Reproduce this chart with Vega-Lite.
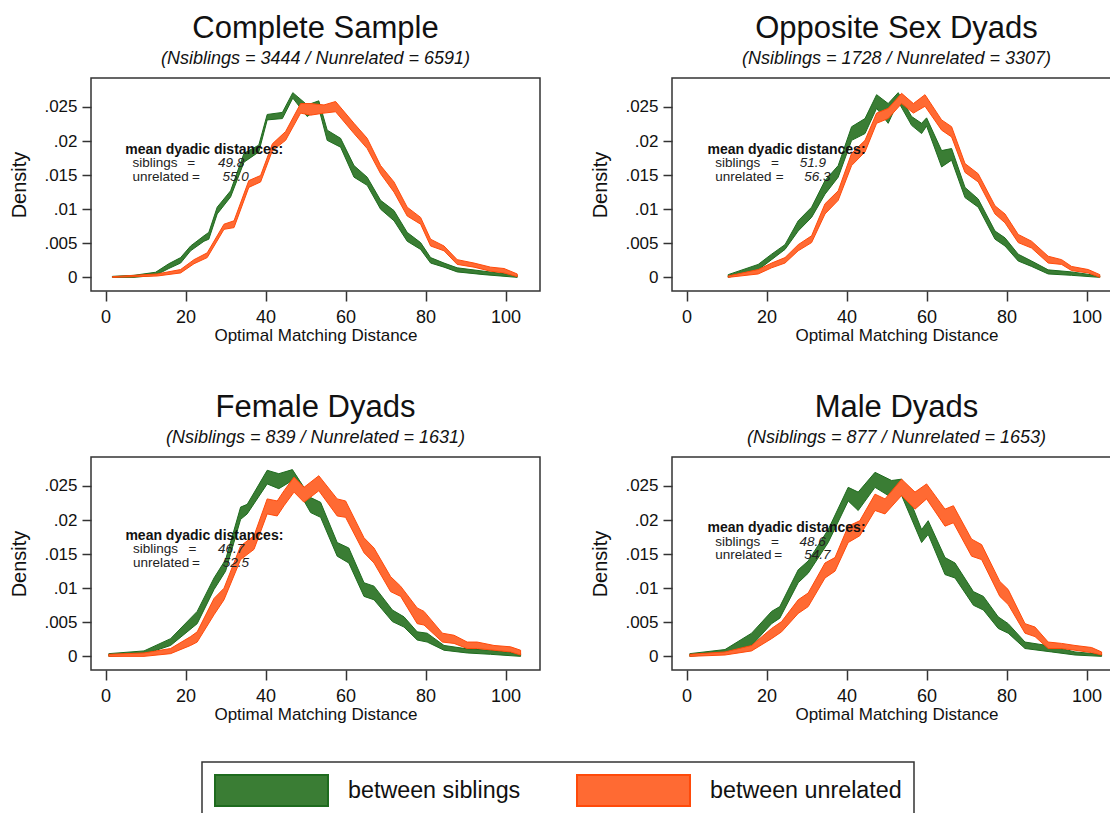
{
  "$schema": "https://vega.github.io/schema/vega-lite/v6.json",
  "padding": {"left": 8, "top": 12, "right": 0, "bottom": 0},
  "background": "white",
  "config": {
    "font": "Liberation Sans",
    "view": {"stroke": "#333", "strokeWidth": 1.5},
    "axis": {"grid": false, "domain": false, "tickColor": "#333", "tickWidth": 1.5, "labelColor": "#111", "titleColor": "#111", "titleFontWeight": "normal"},
    "title": {"fontSize": 31, "fontWeight": "normal", "color": "#111", "subtitleFontSize": 18, "subtitleFontStyle": "italic", "subtitleColor": "#111", "subtitlePadding": 5, "anchor": "middle", "frame": "group", "offset": 9},
    "legend": {"orient": "none", "legendX": 111, "legendY": 684, "direction": "horizontal", "symbolType": "M-1,-1H6.29V1H-1Z", "symbolSize": 961, "labelFontSize": 23.3, "labelLimit": 400, "labelOffset": 101, "columnPadding": 52, "padding": 12, "strokeColor": "#333", "strokeWidth": 1.5, "fillColor": "white", "labelColor": "#111", "symbolOpacity": 1, "symbolStrokeWidth": 2}
  },
  "datasets": {
    "bands": [
      {"panel":1,"group":"between siblings","x":1.7,"lo":0,"hi":0.00015},
      {"panel":1,"group":"between siblings","x":7.1,"lo":0,"hi":0.0003},
      {"panel":1,"group":"between siblings","x":12.5,"lo":0.0003,"hi":0.00075},
      {"panel":1,"group":"between siblings","x":15.8,"lo":0.0013,"hi":0.002},
      {"panel":1,"group":"between siblings","x":18.75,"lo":0.0021,"hi":0.0029},
      {"panel":1,"group":"between siblings","x":21.25,"lo":0.0039,"hi":0.0046},
      {"panel":1,"group":"between siblings","x":24.6,"lo":0.0053,"hi":0.0061},
      {"panel":1,"group":"between siblings","x":25.8,"lo":0.0056,"hi":0.0066},
      {"panel":1,"group":"between siblings","x":27.9,"lo":0.0093,"hi":0.0103},
      {"panel":1,"group":"between siblings","x":31.25,"lo":0.0118,"hi":0.0127},
      {"panel":1,"group":"between siblings","x":34.6,"lo":0.0169,"hi":0.0182},
      {"panel":1,"group":"between siblings","x":38.3,"lo":0.0184,"hi":0.0194},
      {"panel":1,"group":"between siblings","x":40.4,"lo":0.0231,"hi":0.0239},
      {"panel":1,"group":"between siblings","x":44.2,"lo":0.0233,"hi":0.0242},
      {"panel":1,"group":"between siblings","x":46.8,"lo":0.0263,"hi":0.0271},
      {"panel":1,"group":"between siblings","x":50.4,"lo":0.0236,"hi":0.0253},
      {"panel":1,"group":"between siblings","x":53.3,"lo":0.0248,"hi":0.0259},
      {"panel":1,"group":"between siblings","x":55.4,"lo":0.0201,"hi":0.0216},
      {"panel":1,"group":"between siblings","x":58.75,"lo":0.0191,"hi":0.0204},
      {"panel":1,"group":"between siblings","x":62.1,"lo":0.0147,"hi":0.0164},
      {"panel":1,"group":"between siblings","x":65.4,"lo":0.0135,"hi":0.0147},
      {"panel":1,"group":"between siblings","x":68.75,"lo":0.01,"hi":0.0113},
      {"panel":1,"group":"between siblings","x":72.1,"lo":0.0083,"hi":0.0098},
      {"panel":1,"group":"between siblings","x":75.4,"lo":0.0053,"hi":0.0066},
      {"panel":1,"group":"between siblings","x":78.75,"lo":0.0041,"hi":0.0051},
      {"panel":1,"group":"between siblings","x":81.25,"lo":0.0021,"hi":0.0029},
      {"panel":1,"group":"between siblings","x":84.6,"lo":0.0015,"hi":0.0021},
      {"panel":1,"group":"between siblings","x":87.9,"lo":0.0008,"hi":0.0014},
      {"panel":1,"group":"between siblings","x":94.6,"lo":0.0004,"hi":0.0009},
      {"panel":1,"group":"between siblings","x":102.9,"lo":0,"hi":0.0003},
      {"panel":1,"group":"between unrelated","x":1.7,"lo":0,"hi":0.0001},
      {"panel":1,"group":"between unrelated","x":12.9,"lo":0.0002,"hi":0.0005},
      {"panel":1,"group":"between unrelated","x":18.75,"lo":0.00065,"hi":0.00115},
      {"panel":1,"group":"between unrelated","x":22.1,"lo":0.002,"hi":0.0026},
      {"panel":1,"group":"between unrelated","x":25.4,"lo":0.0029,"hi":0.0036},
      {"panel":1,"group":"between unrelated","x":29.6,"lo":0.00705,"hi":0.0078},
      {"panel":1,"group":"between unrelated","x":32.1,"lo":0.0073,"hi":0.0083},
      {"panel":1,"group":"between unrelated","x":35.8,"lo":0.0132,"hi":0.0142},
      {"panel":1,"group":"between unrelated","x":38.75,"lo":0.014,"hi":0.01495},
      {"panel":1,"group":"between unrelated","x":41.7,"lo":0.0186,"hi":0.0196},
      {"panel":1,"group":"between unrelated","x":45.0,"lo":0.0201,"hi":0.0214},
      {"panel":1,"group":"between unrelated","x":48.75,"lo":0.0241,"hi":0.0255},
      {"panel":1,"group":"between unrelated","x":51.25,"lo":0.0238,"hi":0.0255},
      {"panel":1,"group":"between unrelated","x":54.6,"lo":0.0241,"hi":0.0253},
      {"panel":1,"group":"between unrelated","x":57.5,"lo":0.0243,"hi":0.0258},
      {"panel":1,"group":"between unrelated","x":62.1,"lo":0.0211,"hi":0.0226},
      {"panel":1,"group":"between unrelated","x":65.4,"lo":0.0189,"hi":0.0204},
      {"panel":1,"group":"between unrelated","x":68.75,"lo":0.0152,"hi":0.0164},
      {"panel":1,"group":"between unrelated","x":72.1,"lo":0.0125,"hi":0.014},
      {"panel":1,"group":"between unrelated","x":75.4,"lo":0.009,"hi":0.0103},
      {"panel":1,"group":"between unrelated","x":78.75,"lo":0.0078,"hi":0.0088},
      {"panel":1,"group":"between unrelated","x":81.25,"lo":0.0046,"hi":0.0056},
      {"panel":1,"group":"between unrelated","x":84.6,"lo":0.0039,"hi":0.0046},
      {"panel":1,"group":"between unrelated","x":87.9,"lo":0.0019,"hi":0.0026},
      {"panel":1,"group":"between unrelated","x":92.1,"lo":0.0015,"hi":0.0021},
      {"panel":1,"group":"between unrelated","x":96.25,"lo":0.0009,"hi":0.0015},
      {"panel":1,"group":"between unrelated","x":99.6,"lo":0.00065,"hi":0.0013},
      {"panel":1,"group":"between unrelated","x":102.9,"lo":0.0001,"hi":0.0005},

      {"panel":2,"group":"between siblings","x":10.4,"lo":0,"hi":0.0004},
      {"panel":2,"group":"between siblings","x":17.9,"lo":0.0011,"hi":0.0019},
      {"panel":2,"group":"between siblings","x":21.25,"lo":0.0026,"hi":0.0034},
      {"panel":2,"group":"between siblings","x":24.6,"lo":0.0041,"hi":0.0048},
      {"panel":2,"group":"between siblings","x":27.9,"lo":0.0068,"hi":0.0083},
      {"panel":2,"group":"between siblings","x":31.25,"lo":0.0088,"hi":0.0103},
      {"panel":2,"group":"between siblings","x":34.6,"lo":0.0122,"hi":0.0142},
      {"panel":2,"group":"between siblings","x":37.9,"lo":0.0147,"hi":0.0164},
      {"panel":2,"group":"between siblings","x":41.25,"lo":0.0201,"hi":0.0221},
      {"panel":2,"group":"between siblings","x":44.6,"lo":0.0211,"hi":0.0233},
      {"panel":2,"group":"between siblings","x":47.5,"lo":0.0248,"hi":0.0268},
      {"panel":2,"group":"between siblings","x":50.4,"lo":0.0226,"hi":0.0255},
      {"panel":2,"group":"between siblings","x":52.9,"lo":0.0258,"hi":0.0271},
      {"panel":2,"group":"between siblings","x":56.25,"lo":0.0223,"hi":0.0236},
      {"panel":2,"group":"between siblings","x":58.75,"lo":0.0211,"hi":0.0226},
      {"panel":2,"group":"between siblings","x":60.0,"lo":0.0222,"hi":0.0234},
      {"panel":2,"group":"between siblings","x":63.75,"lo":0.0162,"hi":0.0186},
      {"panel":2,"group":"between siblings","x":66.25,"lo":0.0172,"hi":0.0189},
      {"panel":2,"group":"between siblings","x":69.6,"lo":0.0117,"hi":0.0132},
      {"panel":2,"group":"between siblings","x":72.9,"lo":0.0103,"hi":0.0115},
      {"panel":2,"group":"between siblings","x":77.1,"lo":0.0056,"hi":0.0068},
      {"panel":2,"group":"between siblings","x":79.6,"lo":0.0046,"hi":0.0058},
      {"panel":2,"group":"between siblings","x":82.9,"lo":0.0024,"hi":0.0034},
      {"panel":2,"group":"between siblings","x":86.25,"lo":0.0016,"hi":0.0024},
      {"panel":2,"group":"between siblings","x":90.4,"lo":0.0005,"hi":0.0011},
      {"panel":2,"group":"between siblings","x":96.25,"lo":0.0003,"hi":0.0008},
      {"panel":2,"group":"between siblings","x":103.3,"lo":0,"hi":0.0002},
      {"panel":2,"group":"between unrelated","x":10.4,"lo":0,"hi":0.0002},
      {"panel":2,"group":"between unrelated","x":17.9,"lo":0.0005,"hi":0.00115},
      {"panel":2,"group":"between unrelated","x":21.25,"lo":0.0014,"hi":0.0021},
      {"panel":2,"group":"between unrelated","x":24.6,"lo":0.0021,"hi":0.0029},
      {"panel":2,"group":"between unrelated","x":27.9,"lo":0.0039,"hi":0.0048},
      {"panel":2,"group":"between unrelated","x":31.25,"lo":0.0051,"hi":0.0061},
      {"panel":2,"group":"between unrelated","x":34.6,"lo":0.0093,"hi":0.0108},
      {"panel":2,"group":"between unrelated","x":37.9,"lo":0.0113,"hi":0.0127},
      {"panel":2,"group":"between unrelated","x":41.25,"lo":0.0164,"hi":0.0182},
      {"panel":2,"group":"between unrelated","x":44.6,"lo":0.0184,"hi":0.0201},
      {"panel":2,"group":"between unrelated","x":47.5,"lo":0.0226,"hi":0.0241},
      {"panel":2,"group":"between unrelated","x":50.4,"lo":0.0233,"hi":0.0248},
      {"panel":2,"group":"between unrelated","x":53.75,"lo":0.0255,"hi":0.027},
      {"panel":2,"group":"between unrelated","x":56.7,"lo":0.0241,"hi":0.0255},
      {"panel":2,"group":"between unrelated","x":59.6,"lo":0.0251,"hi":0.0268},
      {"panel":2,"group":"between unrelated","x":63.75,"lo":0.0216,"hi":0.0231},
      {"panel":2,"group":"between unrelated","x":66.25,"lo":0.0206,"hi":0.0221},
      {"panel":2,"group":"between unrelated","x":69.6,"lo":0.0154,"hi":0.0167},
      {"panel":2,"group":"between unrelated","x":72.9,"lo":0.014,"hi":0.0152},
      {"panel":2,"group":"between unrelated","x":77.1,"lo":0.0093,"hi":0.0105},
      {"panel":2,"group":"between unrelated","x":79.6,"lo":0.008,"hi":0.0093},
      {"panel":2,"group":"between unrelated","x":82.9,"lo":0.0051,"hi":0.0063},
      {"panel":2,"group":"between unrelated","x":86.25,"lo":0.0043,"hi":0.0053},
      {"panel":2,"group":"between unrelated","x":90.4,"lo":0.0021,"hi":0.0031},
      {"panel":2,"group":"between unrelated","x":93.75,"lo":0.0019,"hi":0.0026},
      {"panel":2,"group":"between unrelated","x":96.25,"lo":0.001,"hi":0.0016},
      {"panel":2,"group":"between unrelated","x":100.4,"lo":0.00065,"hi":0.00115},
      {"panel":2,"group":"between unrelated","x":103.3,"lo":0,"hi":0.0004},

      {"panel":3,"group":"between siblings","x":0.8,"lo":0,"hi":0.0004},
      {"panel":3,"group":"between siblings","x":9.6,"lo":0.0003,"hi":0.0008},
      {"panel":3,"group":"between siblings","x":16.25,"lo":0.0016,"hi":0.0026},
      {"panel":3,"group":"between siblings","x":22.9,"lo":0.0048,"hi":0.0066},
      {"panel":3,"group":"between siblings","x":27.1,"lo":0.0098,"hi":0.0115},
      {"panel":3,"group":"between siblings","x":30.0,"lo":0.0125,"hi":0.0142},
      {"panel":3,"group":"between siblings","x":33.75,"lo":0.0201,"hi":0.0219},
      {"panel":3,"group":"between siblings","x":35.4,"lo":0.0209,"hi":0.0223},
      {"panel":3,"group":"between siblings","x":40.4,"lo":0.0253,"hi":0.0273},
      {"panel":3,"group":"between siblings","x":43.3,"lo":0.0246,"hi":0.0268},
      {"panel":3,"group":"between siblings","x":46.7,"lo":0.0258,"hi":0.0274},
      {"panel":3,"group":"between siblings","x":51.25,"lo":0.0211,"hi":0.0233},
      {"panel":3,"group":"between siblings","x":53.75,"lo":0.0204,"hi":0.0226},
      {"panel":3,"group":"between siblings","x":57.9,"lo":0.0147,"hi":0.0167},
      {"panel":3,"group":"between siblings","x":60.8,"lo":0.0137,"hi":0.0159},
      {"panel":3,"group":"between siblings","x":64.6,"lo":0.0088,"hi":0.0108},
      {"panel":3,"group":"between siblings","x":67.1,"lo":0.0083,"hi":0.0103},
      {"panel":3,"group":"between siblings","x":71.7,"lo":0.0051,"hi":0.0068},
      {"panel":3,"group":"between siblings","x":74.6,"lo":0.0043,"hi":0.0058},
      {"panel":3,"group":"between siblings","x":77.9,"lo":0.0024,"hi":0.0036},
      {"panel":3,"group":"between siblings","x":80.4,"lo":0.0021,"hi":0.0034},
      {"panel":3,"group":"between siblings","x":84.6,"lo":0.0009,"hi":0.0016},
      {"panel":3,"group":"between siblings","x":90.4,"lo":0.0005,"hi":0.0011},
      {"panel":3,"group":"between siblings","x":96.25,"lo":0.0003,"hi":0.0009},
      {"panel":3,"group":"between siblings","x":103.75,"lo":0,"hi":0.0004},
      {"panel":3,"group":"between unrelated","x":0.8,"lo":0,"hi":0.0003},
      {"panel":3,"group":"between unrelated","x":9.6,"lo":0,"hi":0.0005},
      {"panel":3,"group":"between unrelated","x":16.25,"lo":0.0004,"hi":0.00115},
      {"panel":3,"group":"between unrelated","x":21.25,"lo":0.0016,"hi":0.0029},
      {"panel":3,"group":"between unrelated","x":22.9,"lo":0.0021,"hi":0.0036},
      {"panel":3,"group":"between unrelated","x":27.1,"lo":0.0061,"hi":0.0085},
      {"panel":3,"group":"between unrelated","x":29.6,"lo":0.0083,"hi":0.01},
      {"panel":3,"group":"between unrelated","x":33.75,"lo":0.0142,"hi":0.0162},
      {"panel":3,"group":"between unrelated","x":37.1,"lo":0.0157,"hi":0.0177},
      {"panel":3,"group":"between unrelated","x":40.4,"lo":0.0209,"hi":0.0231},
      {"panel":3,"group":"between unrelated","x":42.9,"lo":0.0206,"hi":0.0228},
      {"panel":3,"group":"between unrelated","x":44.6,"lo":0.0221,"hi":0.0243},
      {"panel":3,"group":"between unrelated","x":47.1,"lo":0.0241,"hi":0.0263},
      {"panel":3,"group":"between unrelated","x":49.6,"lo":0.0226,"hi":0.0248},
      {"panel":3,"group":"between unrelated","x":53.3,"lo":0.0243,"hi":0.0265},
      {"panel":3,"group":"between unrelated","x":57.9,"lo":0.0206,"hi":0.0231},
      {"panel":3,"group":"between unrelated","x":60.0,"lo":0.0204,"hi":0.0228},
      {"panel":3,"group":"between unrelated","x":64.6,"lo":0.0152,"hi":0.0174},
      {"panel":3,"group":"between unrelated","x":67.1,"lo":0.0137,"hi":0.0159},
      {"panel":3,"group":"between unrelated","x":71.25,"lo":0.0095,"hi":0.0117},
      {"panel":3,"group":"between unrelated","x":73.75,"lo":0.0088,"hi":0.0103},
      {"panel":3,"group":"between unrelated","x":77.9,"lo":0.0048,"hi":0.0071},
      {"panel":3,"group":"between unrelated","x":79.6,"lo":0.0046,"hi":0.0066},
      {"panel":3,"group":"between unrelated","x":84.2,"lo":0.0021,"hi":0.0034},
      {"panel":3,"group":"between unrelated","x":87.1,"lo":0.0019,"hi":0.0031},
      {"panel":3,"group":"between unrelated","x":90.4,"lo":0.00115,"hi":0.0021},
      {"panel":3,"group":"between unrelated","x":92.9,"lo":0.00115,"hi":0.0021},
      {"panel":3,"group":"between unrelated","x":97.1,"lo":0.0009,"hi":0.0016},
      {"panel":3,"group":"between unrelated","x":101.25,"lo":0.00065,"hi":0.0014},
      {"panel":3,"group":"between unrelated","x":103.75,"lo":0.0002,"hi":0.0009},

      {"panel":4,"group":"between siblings","x":0.8,"lo":0,"hi":0.0004},
      {"panel":4,"group":"between siblings","x":9.6,"lo":0.0005,"hi":0.001},
      {"panel":4,"group":"between siblings","x":16.25,"lo":0.0016,"hi":0.0034},
      {"panel":4,"group":"between siblings","x":21.25,"lo":0.0048,"hi":0.0066},
      {"panel":4,"group":"between siblings","x":23.3,"lo":0.0056,"hi":0.0073},
      {"panel":4,"group":"between siblings","x":27.9,"lo":0.0108,"hi":0.0127},
      {"panel":4,"group":"between siblings","x":30.4,"lo":0.0122,"hi":0.014},
      {"panel":4,"group":"between siblings","x":35.4,"lo":0.0167,"hi":0.0186},
      {"panel":4,"group":"between siblings","x":40.4,"lo":0.0228,"hi":0.0248},
      {"panel":4,"group":"between siblings","x":42.9,"lo":0.0214,"hi":0.0241},
      {"panel":4,"group":"between siblings","x":47.1,"lo":0.0248,"hi":0.027},
      {"panel":4,"group":"between siblings","x":51.25,"lo":0.0233,"hi":0.0258},
      {"panel":4,"group":"between siblings","x":53.75,"lo":0.0236,"hi":0.026},
      {"panel":4,"group":"between siblings","x":58.75,"lo":0.0167,"hi":0.0186},
      {"panel":4,"group":"between siblings","x":60.4,"lo":0.0179,"hi":0.0199},
      {"panel":4,"group":"between siblings","x":64.6,"lo":0.012,"hi":0.0145},
      {"panel":4,"group":"between siblings","x":67.1,"lo":0.0115,"hi":0.0137},
      {"panel":4,"group":"between siblings","x":71.7,"lo":0.0075,"hi":0.0095},
      {"panel":4,"group":"between siblings","x":74.2,"lo":0.0068,"hi":0.0088},
      {"panel":4,"group":"between siblings","x":77.9,"lo":0.0041,"hi":0.0058},
      {"panel":4,"group":"between siblings","x":80.4,"lo":0.0034,"hi":0.0048},
      {"panel":4,"group":"between siblings","x":84.6,"lo":0.00115,"hi":0.0021},
      {"panel":4,"group":"between siblings","x":91.25,"lo":0.00065,"hi":0.0015},
      {"panel":4,"group":"between siblings","x":97.1,"lo":0.0002,"hi":0.00065},
      {"panel":4,"group":"between siblings","x":103.75,"lo":0,"hi":0.0003},
      {"panel":4,"group":"between unrelated","x":0.8,"lo":0,"hi":0.0003},
      {"panel":4,"group":"between unrelated","x":9.6,"lo":0.0002,"hi":0.00065},
      {"panel":4,"group":"between unrelated","x":16.25,"lo":0.0008,"hi":0.0016},
      {"panel":4,"group":"between unrelated","x":21.25,"lo":0.0026,"hi":0.0041},
      {"panel":4,"group":"between unrelated","x":23.75,"lo":0.0036,"hi":0.0051},
      {"panel":4,"group":"between unrelated","x":27.9,"lo":0.0063,"hi":0.0083},
      {"panel":4,"group":"between unrelated","x":30.4,"lo":0.0073,"hi":0.0093},
      {"panel":4,"group":"between unrelated","x":34.6,"lo":0.0115,"hi":0.0137},
      {"panel":4,"group":"between unrelated","x":37.1,"lo":0.0125,"hi":0.0145},
      {"panel":4,"group":"between unrelated","x":40.4,"lo":0.0167,"hi":0.0191},
      {"panel":4,"group":"between unrelated","x":43.3,"lo":0.0177,"hi":0.0199},
      {"panel":4,"group":"between unrelated","x":47.1,"lo":0.0214,"hi":0.0238},
      {"panel":4,"group":"between unrelated","x":49.6,"lo":0.0209,"hi":0.0231},
      {"panel":4,"group":"between unrelated","x":53.75,"lo":0.0236,"hi":0.026},
      {"panel":4,"group":"between unrelated","x":57.1,"lo":0.0216,"hi":0.0241},
      {"panel":4,"group":"between unrelated","x":60.0,"lo":0.0231,"hi":0.0253},
      {"panel":4,"group":"between unrelated","x":64.6,"lo":0.0191,"hi":0.0216},
      {"panel":4,"group":"between unrelated","x":66.7,"lo":0.0196,"hi":0.0221},
      {"panel":4,"group":"between unrelated","x":71.25,"lo":0.0147,"hi":0.0172},
      {"panel":4,"group":"between unrelated","x":73.75,"lo":0.0142,"hi":0.0164},
      {"panel":4,"group":"between unrelated","x":78.3,"lo":0.0088,"hi":0.011},
      {"panel":4,"group":"between unrelated","x":80.4,"lo":0.0076,"hi":0.0098},
      {"panel":4,"group":"between unrelated","x":84.6,"lo":0.0034,"hi":0.0048},
      {"panel":4,"group":"between unrelated","x":87.1,"lo":0.0029,"hi":0.0043},
      {"panel":4,"group":"between unrelated","x":90.4,"lo":0.00115,"hi":0.0021},
      {"panel":4,"group":"between unrelated","x":93.75,"lo":0.00115,"hi":0.0019},
      {"panel":4,"group":"between unrelated","x":97.1,"lo":0.0009,"hi":0.0016},
      {"panel":4,"group":"between unrelated","x":101.25,"lo":0.00055,"hi":0.0013},
      {"panel":4,"group":"between unrelated","x":103.75,"lo":0.0002,"hi":0.00065}
    ],
    "notes": [
      {"panel":1,"kind":"head","x":4.9,"y":0.01812,"text":"mean dyadic distances:"},
      {"panel":1,"kind":"lab","x":6.7,"y":0.01621,"text":"siblings"},
      {"panel":1,"kind":"lab","x":20.4,"y":0.01621,"text":"="},
      {"panel":1,"kind":"val","x":28.1,"y":0.01621,"text":"49.8"},
      {"panel":1,"kind":"lab","x":6.7,"y":0.01416,"text":"unrelated"},
      {"panel":1,"kind":"lab","x":21.6,"y":0.01416,"text":"="},
      {"panel":1,"kind":"val","x":29.25,"y":0.01416,"text":"55.0"},
      {"panel":2,"kind":"head","x":5.25,"y":0.01812,"text":"mean dyadic distances:"},
      {"panel":2,"kind":"lab","x":7.15,"y":0.01621,"text":"siblings"},
      {"panel":2,"kind":"lab","x":21.1,"y":0.01621,"text":"="},
      {"panel":2,"kind":"val","x":28.3,"y":0.01621,"text":"51.9"},
      {"panel":2,"kind":"lab","x":7.15,"y":0.01416,"text":"unrelated"},
      {"panel":2,"kind":"lab","x":22.3,"y":0.01416,"text":"="},
      {"panel":2,"kind":"val","x":29.4,"y":0.01416,"text":"56.3"},
      {"panel":3,"kind":"head","x":4.95,"y":0.01714,"text":"mean dyadic distances:"},
      {"panel":3,"kind":"lab","x":6.85,"y":0.01513,"text":"siblings"},
      {"panel":3,"kind":"lab","x":20.75,"y":0.01513,"text":"="},
      {"panel":3,"kind":"val","x":28.1,"y":0.01513,"text":"46.7"},
      {"panel":3,"kind":"lab","x":6.85,"y":0.01318,"text":"unrelated"},
      {"panel":3,"kind":"lab","x":21.6,"y":0.01318,"text":"="},
      {"panel":3,"kind":"val","x":29.3,"y":0.01318,"text":"52.5"},
      {"panel":4,"kind":"head","x":5.25,"y":0.0182,"text":"mean dyadic distances:"},
      {"panel":4,"kind":"lab","x":7.15,"y":0.01625,"text":"siblings"},
      {"panel":4,"kind":"lab","x":21.1,"y":0.01625,"text":"="},
      {"panel":4,"kind":"val","x":28.2,"y":0.01625,"text":"48.6"},
      {"panel":4,"kind":"lab","x":7.15,"y":0.0143,"text":"unrelated"},
      {"panel":4,"kind":"lab","x":21.9,"y":0.0143,"text":"="},
      {"panel":4,"kind":"val","x":29.4,"y":0.0143,"text":"54.7"}
    ]
  },
  "vconcat": [
    {
      "hconcat": [
        {
          "width": 449, "height": 213,
          "title": {"text": "Complete Sample", "subtitle": "(Nsiblings = 3444 / Nunrelated = 6591)"},
          "layer": [
            {"data": {"name": "bands"}, "transform": [{"filter": "datum.panel == 1 && datum.group == 'between siblings'"}],
             "mark": {"type": "area", "strokeWidth": 1, "opacity": 1},
             "encoding": {
               "x": {"field": "x", "type": "quantitative", "title": "Optimal Matching Distance", "scale": {"domain": [-3.65, 108.6], "nice": false, "zero": false}, "axis": {"values": [0,20,40,60,80,100], "labelFontSize": 18, "titleFontSize": 17, "tickSize": 10, "labelPadding": 7, "titlePadding": 1}},
               "y": {"field": "lo", "type": "quantitative", "title": "Density", "scale": {"domain": [-0.002, 0.02925], "nice": false, "zero": false}, "axis": {"values": [0,0.005,0.01,0.015,0.02,0.025], "labelExpr": "datum.value == 0 ? '0' : replace(format(datum.value, '.3~f'), '0.', '.')", "labelFontSize": 17, "titleFontSize": 20, "tickSize": 9, "labelPadding": 5, "titlePadding": 17, "minExtent": 45, "maxExtent": 45}},
               "y2": {"field": "hi"},
               "color": {"field": "group", "type": "nominal", "scale": {"domain": ["between siblings", "between unrelated"], "range": ["#3A7D34", "#FF6A33"]}, "legend": {"title": null, "symbolType": "M-1,-1H6.29V1H-1Z"}},
               "stroke": {"field": "group", "type": "nominal", "scale": {"domain": ["between siblings", "between unrelated"], "range": ["#1E6B1E", "#FF4A0A"]}, "legend": null}
             }},
            {"data": {"name": "bands"}, "transform": [{"filter": "datum.panel == 1 && datum.group == 'between unrelated'"}],
             "mark": {"type": "area", "strokeWidth": 1, "opacity": 1},
             "encoding": {
               "x": {"field": "x", "type": "quantitative", "title": "Optimal Matching Distance"},
               "y": {"field": "lo", "type": "quantitative", "title": "Density"},
               "y2": {"field": "hi"},
               "color": {"field": "group", "type": "nominal"},
               "stroke": {"field": "group", "type": "nominal", "legend": null}
             }},
            {"data": {"name": "notes"}, "transform": [{"filter": "datum.panel == 1 && datum.kind == 'head'"}],
             "mark": {"type": "text", "fontWeight": "bold", "fontSize": 14, "align": "left", "baseline": "alphabetic", "color": "#111"},
             "encoding": {"x": {"field": "x", "type": "quantitative", "title": "Optimal Matching Distance"}, "y": {"field": "y", "type": "quantitative", "title": "Density"}, "text": {"field": "text"}}},
            {"data": {"name": "notes"}, "transform": [{"filter": "datum.panel == 1 && datum.kind == 'lab'"}],
             "mark": {"type": "text", "fontSize": 13.5, "align": "left", "baseline": "alphabetic", "color": "#222"},
             "encoding": {"x": {"field": "x", "type": "quantitative", "title": "Optimal Matching Distance"}, "y": {"field": "y", "type": "quantitative", "title": "Density"}, "text": {"field": "text"}}},
            {"data": {"name": "notes"}, "transform": [{"filter": "datum.panel == 1 && datum.kind == 'val'"}],
             "mark": {"type": "text", "fontSize": 13.5, "fontStyle": "italic", "align": "left", "baseline": "alphabetic", "color": "#222"},
             "encoding": {"x": {"field": "x", "type": "quantitative", "title": "Optimal Matching Distance"}, "y": {"field": "y", "type": "quantitative", "title": "Density"}, "text": {"field": "text"}}}
          ]
        },
        {
          "width": 449, "height": 213,
          "title": {"text": "Opposite Sex Dyads", "subtitle": "(Nsiblings = 1728 / Nunrelated = 3307)"},
          "layer": [
            {"data": {"name": "bands"}, "transform": [{"filter": "datum.panel == 2 && datum.group == 'between siblings'"}],
             "mark": {"type": "area", "strokeWidth": 1, "opacity": 1},
             "encoding": {
               "x": {"field": "x", "type": "quantitative", "title": "Optimal Matching Distance", "scale": {"domain": [-3.65, 108.6], "nice": false, "zero": false}, "axis": {"values": [0,20,40,60,80,100], "labelFontSize": 18, "titleFontSize": 17, "tickSize": 10, "labelPadding": 7, "titlePadding": 1}},
               "y": {"field": "lo", "type": "quantitative", "title": "Density", "scale": {"domain": [-0.002, 0.02925], "nice": false, "zero": false}, "axis": {"values": [0,0.005,0.01,0.015,0.02,0.025], "labelExpr": "datum.value == 0 ? '0' : replace(format(datum.value, '.3~f'), '0.', '.')", "labelFontSize": 17, "titleFontSize": 20, "tickSize": 9, "labelPadding": 5, "titlePadding": 17, "minExtent": 45, "maxExtent": 45}},
               "y2": {"field": "hi"},
               "color": {"field": "group", "type": "nominal", "scale": {"domain": ["between siblings", "between unrelated"], "range": ["#3A7D34", "#FF6A33"]}, "legend": {"title": null, "symbolType": "M-1,-1H6.29V1H-1Z"}},
               "stroke": {"field": "group", "type": "nominal", "scale": {"domain": ["between siblings", "between unrelated"], "range": ["#1E6B1E", "#FF4A0A"]}, "legend": null}
             }},
            {"data": {"name": "bands"}, "transform": [{"filter": "datum.panel == 2 && datum.group == 'between unrelated'"}],
             "mark": {"type": "area", "strokeWidth": 1, "opacity": 1},
             "encoding": {
               "x": {"field": "x", "type": "quantitative", "title": "Optimal Matching Distance"},
               "y": {"field": "lo", "type": "quantitative", "title": "Density"},
               "y2": {"field": "hi"},
               "color": {"field": "group", "type": "nominal"},
               "stroke": {"field": "group", "type": "nominal", "legend": null}
             }},
            {"data": {"name": "notes"}, "transform": [{"filter": "datum.panel == 2 && datum.kind == 'head'"}],
             "mark": {"type": "text", "fontWeight": "bold", "fontSize": 14, "align": "left", "baseline": "alphabetic", "color": "#111"},
             "encoding": {"x": {"field": "x", "type": "quantitative", "title": "Optimal Matching Distance"}, "y": {"field": "y", "type": "quantitative", "title": "Density"}, "text": {"field": "text"}}},
            {"data": {"name": "notes"}, "transform": [{"filter": "datum.panel == 2 && datum.kind == 'lab'"}],
             "mark": {"type": "text", "fontSize": 13.5, "align": "left", "baseline": "alphabetic", "color": "#222"},
             "encoding": {"x": {"field": "x", "type": "quantitative", "title": "Optimal Matching Distance"}, "y": {"field": "y", "type": "quantitative", "title": "Density"}, "text": {"field": "text"}}},
            {"data": {"name": "notes"}, "transform": [{"filter": "datum.panel == 2 && datum.kind == 'val'"}],
             "mark": {"type": "text", "fontSize": 13.5, "fontStyle": "italic", "align": "left", "baseline": "alphabetic", "color": "#222"},
             "encoding": {"x": {"field": "x", "type": "quantitative", "title": "Optimal Matching Distance"}, "y": {"field": "y", "type": "quantitative", "title": "Density"}, "text": {"field": "text"}}}
          ]
        }
      ],
      "spacing": 48
    },
    {
      "hconcat": [
        {
          "width": 449, "height": 213,
          "title": {"text": "Female Dyads", "subtitle": "(Nsiblings = 839 / Nunrelated = 1631)"},
          "layer": [
            {"data": {"name": "bands"}, "transform": [{"filter": "datum.panel == 3 && datum.group == 'between siblings'"}],
             "mark": {"type": "area", "strokeWidth": 1, "opacity": 1},
             "encoding": {
               "x": {"field": "x", "type": "quantitative", "title": "Optimal Matching Distance", "scale": {"domain": [-3.65, 108.6], "nice": false, "zero": false}, "axis": {"values": [0,20,40,60,80,100], "labelFontSize": 18, "titleFontSize": 17, "tickSize": 10, "labelPadding": 7, "titlePadding": 1}},
               "y": {"field": "lo", "type": "quantitative", "title": "Density", "scale": {"domain": [-0.002, 0.02925], "nice": false, "zero": false}, "axis": {"values": [0,0.005,0.01,0.015,0.02,0.025], "labelExpr": "datum.value == 0 ? '0' : replace(format(datum.value, '.3~f'), '0.', '.')", "labelFontSize": 17, "titleFontSize": 20, "tickSize": 9, "labelPadding": 5, "titlePadding": 17, "minExtent": 45, "maxExtent": 45}},
               "y2": {"field": "hi"},
               "color": {"field": "group", "type": "nominal", "scale": {"domain": ["between siblings", "between unrelated"], "range": ["#3A7D34", "#FF6A33"]}, "legend": {"title": null, "symbolType": "M-1,-1H6.29V1H-1Z"}},
               "stroke": {"field": "group", "type": "nominal", "scale": {"domain": ["between siblings", "between unrelated"], "range": ["#1E6B1E", "#FF4A0A"]}, "legend": null}
             }},
            {"data": {"name": "bands"}, "transform": [{"filter": "datum.panel == 3 && datum.group == 'between unrelated'"}],
             "mark": {"type": "area", "strokeWidth": 1, "opacity": 1},
             "encoding": {
               "x": {"field": "x", "type": "quantitative", "title": "Optimal Matching Distance"},
               "y": {"field": "lo", "type": "quantitative", "title": "Density"},
               "y2": {"field": "hi"},
               "color": {"field": "group", "type": "nominal"},
               "stroke": {"field": "group", "type": "nominal", "legend": null}
             }},
            {"data": {"name": "notes"}, "transform": [{"filter": "datum.panel == 3 && datum.kind == 'head'"}],
             "mark": {"type": "text", "fontWeight": "bold", "fontSize": 14, "align": "left", "baseline": "alphabetic", "color": "#111"},
             "encoding": {"x": {"field": "x", "type": "quantitative", "title": "Optimal Matching Distance"}, "y": {"field": "y", "type": "quantitative", "title": "Density"}, "text": {"field": "text"}}},
            {"data": {"name": "notes"}, "transform": [{"filter": "datum.panel == 3 && datum.kind == 'lab'"}],
             "mark": {"type": "text", "fontSize": 13.5, "align": "left", "baseline": "alphabetic", "color": "#222"},
             "encoding": {"x": {"field": "x", "type": "quantitative", "title": "Optimal Matching Distance"}, "y": {"field": "y", "type": "quantitative", "title": "Density"}, "text": {"field": "text"}}},
            {"data": {"name": "notes"}, "transform": [{"filter": "datum.panel == 3 && datum.kind == 'val'"}],
             "mark": {"type": "text", "fontSize": 13.5, "fontStyle": "italic", "align": "left", "baseline": "alphabetic", "color": "#222"},
             "encoding": {"x": {"field": "x", "type": "quantitative", "title": "Optimal Matching Distance"}, "y": {"field": "y", "type": "quantitative", "title": "Density"}, "text": {"field": "text"}}}
          ]
        },
        {
          "width": 449, "height": 213,
          "title": {"text": "Male Dyads", "subtitle": "(Nsiblings = 877 / Nunrelated = 1653)"},
          "layer": [
            {"data": {"name": "bands"}, "transform": [{"filter": "datum.panel == 4 && datum.group == 'between siblings'"}],
             "mark": {"type": "area", "strokeWidth": 1, "opacity": 1},
             "encoding": {
               "x": {"field": "x", "type": "quantitative", "title": "Optimal Matching Distance", "scale": {"domain": [-3.65, 108.6], "nice": false, "zero": false}, "axis": {"values": [0,20,40,60,80,100], "labelFontSize": 18, "titleFontSize": 17, "tickSize": 10, "labelPadding": 7, "titlePadding": 1}},
               "y": {"field": "lo", "type": "quantitative", "title": "Density", "scale": {"domain": [-0.002, 0.02925], "nice": false, "zero": false}, "axis": {"values": [0,0.005,0.01,0.015,0.02,0.025], "labelExpr": "datum.value == 0 ? '0' : replace(format(datum.value, '.3~f'), '0.', '.')", "labelFontSize": 17, "titleFontSize": 20, "tickSize": 9, "labelPadding": 5, "titlePadding": 17, "minExtent": 45, "maxExtent": 45}},
               "y2": {"field": "hi"},
               "color": {"field": "group", "type": "nominal", "scale": {"domain": ["between siblings", "between unrelated"], "range": ["#3A7D34", "#FF6A33"]}, "legend": {"title": null, "symbolType": "M-1,-1H6.29V1H-1Z"}},
               "stroke": {"field": "group", "type": "nominal", "scale": {"domain": ["between siblings", "between unrelated"], "range": ["#1E6B1E", "#FF4A0A"]}, "legend": null}
             }},
            {"data": {"name": "bands"}, "transform": [{"filter": "datum.panel == 4 && datum.group == 'between unrelated'"}],
             "mark": {"type": "area", "strokeWidth": 1, "opacity": 1},
             "encoding": {
               "x": {"field": "x", "type": "quantitative", "title": "Optimal Matching Distance"},
               "y": {"field": "lo", "type": "quantitative", "title": "Density"},
               "y2": {"field": "hi"},
               "color": {"field": "group", "type": "nominal"},
               "stroke": {"field": "group", "type": "nominal", "legend": null}
             }},
            {"data": {"name": "notes"}, "transform": [{"filter": "datum.panel == 4 && datum.kind == 'head'"}],
             "mark": {"type": "text", "fontWeight": "bold", "fontSize": 14, "align": "left", "baseline": "alphabetic", "color": "#111"},
             "encoding": {"x": {"field": "x", "type": "quantitative", "title": "Optimal Matching Distance"}, "y": {"field": "y", "type": "quantitative", "title": "Density"}, "text": {"field": "text"}}},
            {"data": {"name": "notes"}, "transform": [{"filter": "datum.panel == 4 && datum.kind == 'lab'"}],
             "mark": {"type": "text", "fontSize": 13.5, "align": "left", "baseline": "alphabetic", "color": "#222"},
             "encoding": {"x": {"field": "x", "type": "quantitative", "title": "Optimal Matching Distance"}, "y": {"field": "y", "type": "quantitative", "title": "Density"}, "text": {"field": "text"}}},
            {"data": {"name": "notes"}, "transform": [{"filter": "datum.panel == 4 && datum.kind == 'val'"}],
             "mark": {"type": "text", "fontSize": 13.5, "fontStyle": "italic", "align": "left", "baseline": "alphabetic", "color": "#222"},
             "encoding": {"x": {"field": "x", "type": "quantitative", "title": "Optimal Matching Distance"}, "y": {"field": "y", "type": "quantitative", "title": "Density"}, "text": {"field": "text"}}}
          ]
        }
      ],
      "spacing": 48
    }
  ],
  "spacing": 47
}
